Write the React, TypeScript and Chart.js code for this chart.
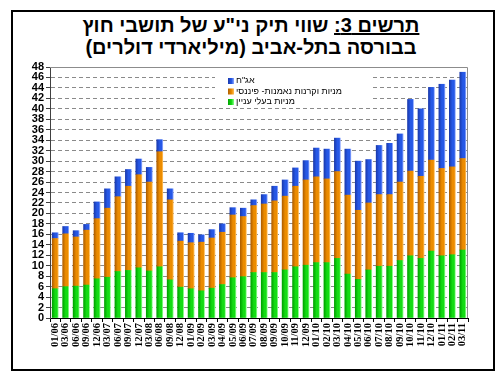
import React, { useEffect, useRef } from 'react';
import { Chart, registerables } from 'chart.js';

Chart.register(...registerables);

const categories = ['01/06','03/06','06/06','09/06','12/06','03/07','06/07','09/07','12/07','03/08','06/08','09/08','12/08','01/09','02/09','03/09','04/09','05/09','06/09','07/09','08/09','09/09','10/09','11/09','12/09','01/10','02/10','03/10','04/10','05/10','06/10','07/10','08/10','09/10','10/10','11/10','12/10','01/11','02/11','03/11'];

const interestedParties = [5.6,6.0,6.1,6.3,7.5,7.8,8.9,9.1,9.6,9.0,9.8,7.3,5.9,5.6,5.2,5.7,6.4,7.7,7.9,8.7,8.7,8.7,9.2,9.8,10.1,10.6,10.6,11.4,8.4,7.4,9.2,9.9,9.9,11.0,11.9,11.4,12.8,11.9,12.1,13.0];
const sharesAndFunds = [9.6,10.1,9.4,10.5,11.5,13.2,14.3,16.1,17.8,17.0,22.0,15.3,8.8,8.8,9.3,9.6,10.0,12.0,11.5,12.8,13.1,13.7,14.1,15.4,16.3,16.4,16.0,16.6,15.1,13.2,12.8,13.7,13.7,15.0,16.2,15.7,17.4,16.7,16.8,17.5];
const bonds = [1.1,1.4,1.2,1.1,3.2,3.7,3.8,3.2,3.0,2.8,2.3,2.1,1.6,1.8,1.4,1.6,1.6,1.4,1.6,1.1,1.8,2.8,3.1,3.5,3.7,5.5,5.7,6.4,8.8,9.4,8.3,9.4,9.8,9.2,13.7,12.9,13.9,16.1,16.6,16.5];

const seriesLabels = ['מניות בעלי עניין', 'מניות וקרנות נאמנות- פיננסי', 'אג"ח'];
const yTicks = [0, 48, 2];

const BAR_W = 6;

function shade(dark: string, mid: string, light: string) {
  return (c: any) => {
    const chart = c.chart;
    const xs = chart.scales && chart.scales.x;
    if (c.type !== 'data' || !xs || !chart.chartArea) return mid;
    const x = xs.getPixelForValue(c.dataIndex);
    const g = chart.ctx.createLinearGradient(x - BAR_W / 2, 0, x + BAR_W / 2, 0);
    g.addColorStop(0, dark);
    g.addColorStop(0.5, mid);
    g.addColorStop(0.82, mid);
    g.addColorStop(1, light);
    return g;
  };
}

const palette = [
  { dark: '#00a300', mid: '#14dc14', light: '#8cff8c' },
  { dark: '#b05f00', mid: '#ec8c00', light: '#ffbe5a' },
  { dark: '#1a3aae', mid: '#2658e6', light: '#8ea8ff' },
];

const legendPlugin = {
  id: 'innerLegend',
  afterDatasetsDraw(chart: any) {
    const ctx = chart.ctx;
    ctx.save();
    ctx.fillStyle = '#ffffff';
    ctx.fillRect(215, 72, 157, 36);
    const order = [2, 1, 0];
    const rows = [81, 91.5, 102];
    ctx.font = '9px "Liberation Sans", "DejaVu Sans", sans-serif';
    ctx.textBaseline = 'middle';
    ctx.textAlign = 'left';
    (ctx as any).direction = 'rtl';
    order.forEach((di, i) => {
      const p = palette[di];
      const y = rows[i];
      const g = ctx.createLinearGradient(228, 0, 234, 0);
      g.addColorStop(0, p.dark);
      g.addColorStop(0.6, p.mid);
      g.addColorStop(1, p.light);
      ctx.fillStyle = g;
      ctx.fillRect(228, y - 3, 6, 6);
      ctx.fillStyle = '#000';
      ctx.fillText(chart.data.datasets[di].label, 236, y);
    });
    ctx.restore();
  },
  afterDraw(chart: any) {
    const a = chart.chartArea;
    const ctx = chart.ctx;
    ctx.save();
    ctx.strokeStyle = '#8c8c8c';
    ctx.lineWidth = 1;
    ctx.beginPath();
    ctx.moveTo(a.left, a.top + 0.5);
    ctx.lineTo(a.right - 0.5, a.top + 0.5);
    ctx.lineTo(a.right - 0.5, a.bottom);
    ctx.stroke();
    ctx.restore();
  },
};

export default function App() {
  const ref = useRef<HTMLCanvasElement>(null);

  useEffect(() => {
    if (!ref.current) return;
    const series = [interestedParties, sharesAndFunds, bonds];
    const chart = new Chart(ref.current, {
      type: 'bar',
      data: {
        labels: categories,
        datasets: series.map((d, i) => ({
          label: seriesLabels[i],
          data: d,
          backgroundColor: shade(palette[i].dark, palette[i].mid, palette[i].light),
          borderWidth: 0,
          barThickness: BAR_W,
        })),
      },
      options: {
        responsive: false,
        animation: false,
        layout: { padding: { left: 0, top: 67, right: 34, bottom: 21 } },
        plugins: {
          legend: { display: false },
          title: { display: false },
          tooltip: { enabled: false },
        },
        scales: {
          x: {
            stacked: true,
            afterFit: (s: any) => { s.height = 40; },
            grid: { drawOnChartArea: false, drawTicks: true, tickLength: 4, color: '#000', offset: true },
            border: { color: '#000', width: 1 },
            ticks: {
              autoSkip: false,
              maxRotation: 90,
              minRotation: 90,
              padding: 1,
              color: '#000',
              font: { family: '"Liberation Serif", "DejaVu Serif", serif', size: 10.5, weight: 'bold' },
            },
          },
          y: {
            stacked: true,
            min: yTicks[0],
            max: yTicks[1],
            afterFit: (s: any) => { s.width = 50; },
            grid: {
              color: (c: any) => (c.tick && (c.tick.value === 0 || c.tick.value === 48) ? 'rgba(0,0,0,0)' : '#8a8a8a'),
              tickColor: '#404040',
              tickLength: 4,
              tickBorderDash: [],
              lineWidth: 1,
            },
            border: { color: '#404040', width: 1, dash: [4, 3] },
            ticks: {
              stepSize: yTicks[2],
              autoSkip: false,
              padding: 2,
              color: '#000',
              font: { family: '"Liberation Sans", Arial, sans-serif', size: 11, weight: 'bold' },
            },
          },
        },
      },
      plugins: [legendPlugin],
    } as any);
    return () => chart.destroy();
  }, []);

  return (
    <div style={{ position: 'absolute', left: 0, top: 0, width: 502, height: 379, background: '#fff', overflow: 'hidden' }}>
      <div style={{ position: 'absolute', left: 11, top: 10, width: 480, height: 357, border: '2px solid #000' }} />
      <div
        style={{
          position: 'absolute', left: 0, top: 14, width: 502, textAlign: 'center', direction: 'rtl',
          font: 'bold 20px "Liberation Sans", Arial, sans-serif', lineHeight: '22px', color: '#000',
        }}
      >
        <div><u>תרשים 3:</u> שווי תיק ני"ע של תושבי חוץ</div>
        <div>בבורסה בתל-אביב (מיליארדי דולרים)</div>
      </div>
      <canvas ref={ref} width={502} height={379} style={{ position: 'absolute', left: 0, top: 0, width: 502, height: 379 }} />
    </div>
  );
}
